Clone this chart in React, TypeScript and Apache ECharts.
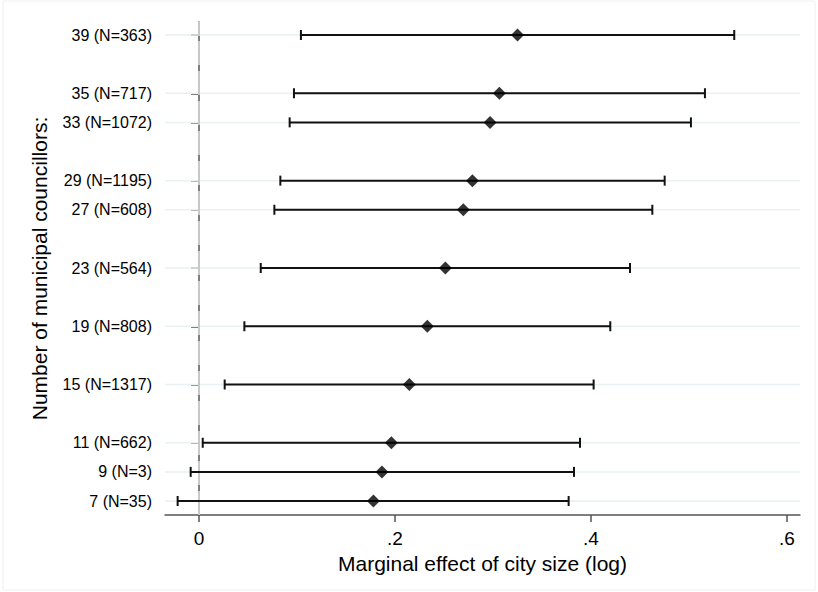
import React, { useEffect, useRef } from "react";
import * as echarts from "echarts";

const councillors = [39, 35, 33, 29, 27, 23, 19, 15, 11, 9, 7];
const sampleSizes = [363, 717, 1072, 1195, 608, 564, 808, 1317, 662, 3, 35];
const estimates = [0.325, 0.3065, 0.297, 0.279, 0.2697, 0.2514, 0.233, 0.2146, 0.1963, 0.1867, 0.178];
const lowerCI = [0.104, 0.0969, 0.0925, 0.083, 0.0769, 0.063, 0.0463, 0.0262, 0.0038, -0.0085, -0.0218];
const upperCI = [0.5462, 0.5163, 0.502, 0.4752, 0.4626, 0.4398, 0.4197, 0.4027, 0.3888, 0.3827, 0.3772];
const xTicks = [0, 0.2, 0.4, 0.6];

const FONT = "'Liberation Sans', Arial, sans-serif";

export default function App() {
  const ref = useRef<HTMLDivElement>(null);

  useEffect(() => {
    if (!ref.current) return;
    const chart = echarts.init(ref.current, null, { renderer: "svg" });

    const barData = councillors.map((c, i) => [lowerCI[i], upperCI[i], c]);
    const pointData = councillors.map((c, i) => [estimates[i], c]);
    const gridData = councillors.map((c) => [0, c]);

    const option: any = {
      animation: false,
      backgroundColor: "#ffffff",
      textStyle: { fontFamily: FONT },
      grid: { left: 165, right: 18, top: 22, bottom: 77, containLabel: false },
      graphic: [
        {
          type: "rect",
          silent: true,
          shape: { x: 3, y: 1, width: 812, height: 589 },
          style: { fill: "none", stroke: "#f0f0f0", lineWidth: 1 },
          z: -10,
        },
      ],
      xAxis: {
        type: "value",
        min: -0.0347,
        max: 0.6133,
        name: "Marginal effect of city size (log)",
        nameLocation: "middle",
        nameGap: 31,
        nameTextStyle: { fontSize: 21, color: "#000", fontFamily: FONT },
        axisLine: { show: true, lineStyle: { color: "#555", width: 1.5 } },
        axisTick: {
          show: true,
          length: 7,
          customValues: xTicks,
          lineStyle: { color: "#555", width: 1.5 },
        },
        axisLabel: {
          customValues: xTicks,
          fontSize: 19,
          color: "#000",
          margin: 14,
          fontFamily: FONT,
          formatter: (v: number) => (v === 0 ? "0" : String(v).replace(/^0/, "")),
        },
        splitLine: { show: false },
      },
      yAxis: {
        type: "value",
        min: 6.039,
        max: 39.893,
        name: "Number of municipal councillors:",
        nameLocation: "middle",
        nameGap: 115,
        nameTextStyle: { fontSize: 21, color: "#000", fontFamily: FONT },
        axisLine: { show: true, lineStyle: { color: "#555", width: 1.5 } },
        axisTick: {
          show: true,
          length: 8,
          customValues: councillors,
          lineStyle: { color: "#555", width: 1.5 },
        },
        axisLabel: {
          customValues: councillors,
          fontSize: 16,
          color: "#000",
          margin: 13,
          fontFamily: FONT,
          formatter: (v: number) => {
            const i = councillors.indexOf(Math.round(v));
            return i >= 0 ? `${councillors[i]} (N=${sampleSizes[i]})` : "";
          },
        },
        splitLine: { show: false },
      },
      series: [
        {
          type: "custom",
          name: "grid",
          silent: true,
          z: 1,
          data: gridData,
          encode: { x: 0, y: 1 },
          renderItem: (params: any, api: any) => {
            const cs = params.coordSys;
            const p = api.coord([0, api.value(1)]);
            return {
              type: "line",
              shape: { x1: cs.x, y1: p[1], x2: cs.x + cs.width, y2: p[1] },
              style: { stroke: "#e9f1f3", lineWidth: 1.5 },
            };
          },
        },
        {
          type: "custom",
          name: "CI",
          z: 3,
          data: barData,
          encode: { x: [0, 1], y: 2 },
          renderItem: (params: any, api: any) => {
            const y = api.value(2);
            const a = api.coord([api.value(0), y]);
            const b = api.coord([api.value(1), y]);
            const h = 5;
            const st = { stroke: "#111", lineWidth: 2 };
            return {
              type: "group",
              children: [
                { type: "line", shape: { x1: a[0], y1: a[1], x2: b[0], y2: b[1] }, style: st },
                { type: "line", shape: { x1: a[0], y1: a[1] - h, x2: a[0], y2: a[1] + h }, style: st },
                { type: "line", shape: { x1: b[0], y1: b[1] - h, x2: b[0], y2: b[1] + h }, style: st },
              ],
            };
          },
        },
        {
          type: "scatter",
          name: "Estimate",
          z: 4,
          symbol: "diamond",
          symbolSize: 13,
          itemStyle: { color: "#000" },
          data: pointData,
          markLine: {
            silent: true,
            symbol: "none",
            label: { show: false },
            z: 2,
            lineStyle: { type: [24, 6], color: "#c8c8c8", width: 2 },
            data: [{ xAxis: 0 }],
          },
        },
      ],
    };

    chart.setOption(option);
    return () => chart.dispose();
  }, []);

  return (
    <div
      ref={ref}
      style={{ position: "fixed", left: 0, top: 0, width: 818, height: 592 }}
    />
  );
}
